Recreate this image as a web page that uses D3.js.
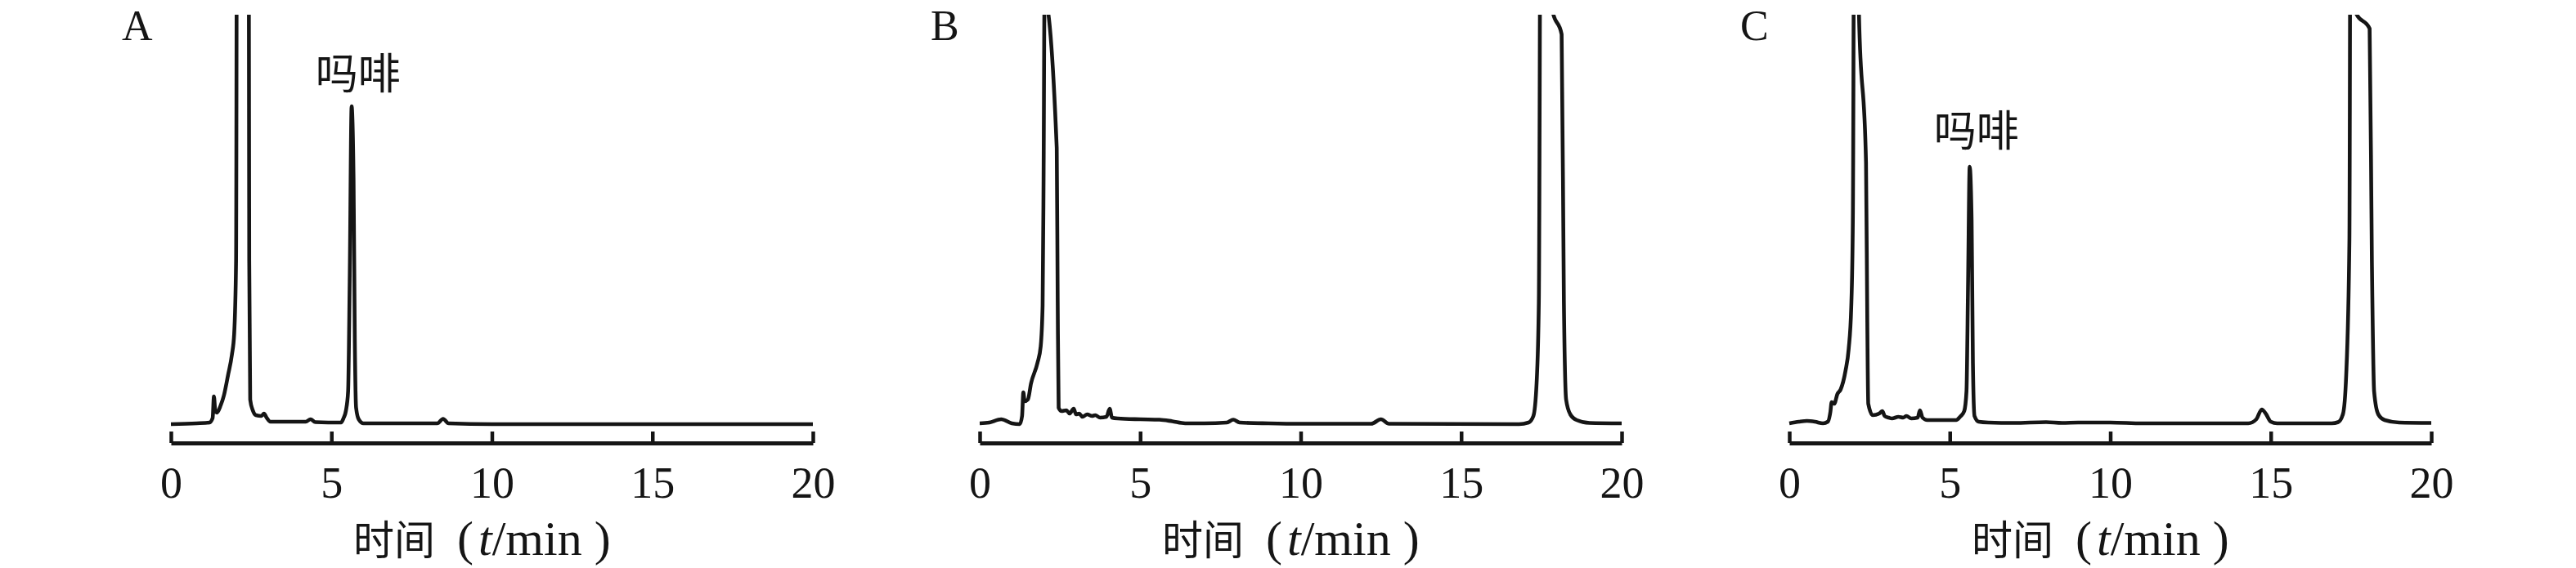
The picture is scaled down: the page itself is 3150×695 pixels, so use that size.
<!DOCTYPE html>
<html><head><meta charset="utf-8">
<script src="https://cdn.jsdelivr.net/npm/d3@7"></script>
<style>
html,body{margin:0;padding:0;background:#fff;}
svg{display:block;}
</style></head>
<body>
<svg id="chart" width="3150" height="695"></svg>
<script>
// ---- data ----
const panelLabels = ["A", "B", "C"];
const xTicks = [0, 5, 10, 15, 20];
const xTitleCJK = "时间";
const xTitleVar = "t";
const xTitleUnit = "/min";
const peakLabel = "吗啡";
// trace A: [time(min), signal]
const traceA = [[0,0],[0.8,0.2],[1.2,0.4],[1.3,1.5],[1.34,6.8],[1.38,3.5],[1.43,2.8],[1.55,4.6],[1.65,7],[1.78,12],[1.9,17],[1.97,22],[2.03,40],[2.07,200],[2.41,200],[2.44,40],[2.47,6],[2.55,3.4],[2.65,2.2],[2.82,2.0],[2.9,2.6],[2.98,1.6],[3.1,0.6],[4.2,0.6],[4.35,1.2],[4.5,0.5],[5.3,0.4],[5.38,1.5],[5.45,3.2],[5.52,8],[5.57,35],[5.63,77.8],[5.69,60],[5.73,20],[5.77,4],[5.85,1.2],[6.0,0.2],[8.3,0.2],[8.48,1.3],[8.65,0.2],[10,0],[20,0]];
const traceB = [[0,0.2],[0.3,0.4],[0.67,1.2],[1.0,0.2],[1.25,0],[1.32,2],[1.36,7.8],[1.4,5.6],[1.5,6],[1.6,10],[1.8,15],[1.9,19],[1.96,29],[1.99,60],[2.02,104],[2.4,67.6],[2.43,30],[2.46,4],[2.55,3.2],[2.7,3.4],[2.8,2.6],[2.93,3.8],[3.0,2.4],[3.1,2.6],[3.2,1.8],[3.35,2.4],[3.5,2],[3.6,2.2],[3.75,1.6],[3.95,1.8],[4.05,3.8],[4.12,1.6],[4.3,1.4],[5.0,1.2],[5.6,1.1],[6.0,0.7],[6.4,0.2],[7.0,0.2],[7.7,0.4],[7.9,1.1],[8.1,0.4],[9,0.2],[10,0.1],[12.2,0.1],[12.5,1.2],[12.75,0.1],[16.8,0],[17.1,0.4],[17.25,2],[17.35,10],[17.42,30],[17.5,200],[17.85,101],[18.13,95.4],[18.2,30],[18.27,6],[18.4,2.4],[18.6,1],[19,0.3],[20,0.2]];
const traceC = [[0,0.2],[0.3,0.6],[0.55,0.8],[0.8,0.6],[1.05,0.2],[1.2,0.6],[1.28,3],[1.32,5.4],[1.4,5],[1.5,7.4],[1.6,8.5],[1.75,13],[1.85,18.4],[1.93,28.6],[1.98,50],[2.05,200],[2.17,100.5],[2.39,64],[2.43,25],[2.46,5],[2.6,2.2],[2.8,2.6],[2.9,3.2],[2.97,2.0],[3.1,1.6],[3.2,1.4],[3.4,1.8],[3.55,1.6],[3.65,2.0],[3.8,1.4],[4.0,1.6],[4.07,3.4],[4.15,1.6],[4.3,1.0],[5.2,1.0],[5.32,1.8],[5.45,3.2],[5.52,8],[5.57,35],[5.62,63],[5.68,50],[5.72,15],[5.77,2],[5.9,0.6],[6.2,0.4],[7.0,0.3],[8.0,0.5],[8.5,0.3],[9.0,0.4],[10,0.4],[11,0.2],[14.3,0.2],[14.55,1.2],[14.72,3.6],[14.85,2.5],[15.0,0.6],[15.2,0.2],[16.9,0.2],[17.1,0.5],[17.25,2.5],[17.35,12],[17.45,45],[17.5,200],[17.66,100.5],[18.08,96.8],[18.15,40],[18.22,8],[18.35,2.4],[18.55,1],[19,0.4],[20,0.3]];
const traces = [traceA, traceB, traceC];
// morphine peak label positions (time, signal at label baseline)
const morphineLabelAt = [[5.83, 82], null, [5.83, 68]];

// ---- layout ----
const panelX0 = [209, 1198, 2188];
const panelW = 785;
const axisY = 542;
const serif = '"Liberation Serif","Times New Roman",serif';
const cjk = '"Noto Sans CJK SC",sans-serif';
const ink = "#151515";

const svg = d3.select("#chart");
const y = d3.scaleLinear().domain([0, 100]).range([519, 19]);

panelLabels.forEach((lab, i) => {
  const x0 = panelX0[i];
  const x = d3.scaleLinear().domain([0, 20]).range([x0, x0 + panelW]);
  const g = svg.append("g");

  const clipId = "clip" + i;
  svg.append("clipPath").attr("id", clipId)
    .append("rect").attr("x", x0 - 20).attr("y", 18).attr("width", panelW + 40).attr("height", 520);

  const line = d3.line().x(d => x(d[0])).y(d => y(d[1])).curve(d3.curveMonotoneX);
  g.append("path").datum(traces[i])
    .attr("clip-path", `url(#${clipId})`)
    .attr("d", line)
    .attr("fill", "none").attr("stroke", ink)
    .attr("stroke-width", 4.6).attr("stroke-linejoin", "round");

  // axis
  const ax = g.append("g").attr("transform", `translate(0,${axisY})`)
    .call(d3.axisBottom(x).tickValues(xTicks).tickSizeInner(-14).tickSizeOuter(0).tickPadding(30));
  ax.select(".domain").attr("stroke", ink).attr("stroke-width", 5);
  ax.selectAll(".tick line").attr("stroke", ink).attr("stroke-width", 4.5);
  ax.selectAll(".tick text").attr("fill", ink).attr("font-family", serif)
    .attr("font-size", 54).attr("y", 29).attr("dy", "0.71em");

  // title
  const t = g.append("text").attr("x", x0 + 223).attr("y", 679)
    .attr("font-family", serif).attr("font-size", 60).attr("fill", ink);
  t.append("tspan").attr("font-family", cjk).attr("font-size", 50).text(xTitleCJK);
  t.append("tspan").attr("dx", 27).text("(");
  t.append("tspan").attr("dx", 6).attr("font-style", "italic").text(xTitleVar);
  t.append("tspan").text(xTitleUnit);
  t.append("tspan").attr("dx", 15).text(")");

  // panel label
  g.append("text").attr("x", x0 - 60).attr("y", 49)
    .attr("font-family", serif).attr("font-size", 52).attr("fill", ink).text(lab);

  // morphine label
  const ml = morphineLabelAt[i];
  if (ml) {
    g.append("text").attr("x", x(ml[0])).attr("y", y(ml[1]))
      .attr("text-anchor", "middle")
      .attr("font-family", cjk).attr("font-size", 52)
      .attr("fill", ink).text(peakLabel);
  }
});
</script>
</body></html>
